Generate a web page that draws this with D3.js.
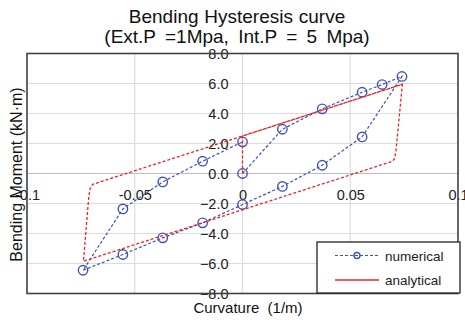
<!DOCTYPE html>
<html>
<head>
<meta charset="utf-8">
<script src="https://cdn.jsdelivr.net/npm/d3@7"></script>
<style>
  html, body { margin: 0; padding: 0; background: #fff; }
  svg { display: block; font-family: "Liberation Sans", Arial, sans-serif; }
  text { white-space: pre; }
</style>
</head>
<body>
<svg id="chart" width="465" height="320"></svg>
<script>
// ---- data ----
const numX = [0, 0.0185, 0.037, 0.0555, 0.0648, 0.074, 0.0555, 0.037, 0.0185, 0, -0.0185, -0.037, -0.0555, -0.074, -0.0555, -0.037, -0.0185, 0];
const numY = [0, 2.95, 4.31, 5.42, 5.93, 6.47, 2.44, 0.55, -0.86, -2.07, -3.29, -4.29, -5.40, -6.45, -2.36, -0.56, 0.82, 2.11];
const anaX = [0, 0, 0.0742, 0.0712, 0.0706, 0.0697, -0.0738, -0.0713, -0.0706, -0.0695, 0, 0.0742];
const anaY = [0, 2.5, 5.95, 1.5, 1.0, 0.82, -5.85, -1.5, -0.95, -0.72, 2.5, 5.95];
const xTicks = [-0.1, -0.05, 0, 0.05, 0.1];
const xTickLabels = ["-0.1", "-0.05", "0", "0.05", "0.1"];
const yTicks = [-8, -6, -4, -2, 0, 2, 4, 6, 8];
const seriesNames = ["numerical", "analytical"];
const titleLines = ["Bending Hysteresis curve", "(Ext.P =1Mpa, Int.P = 5 Mpa)"];
const xTitle = "Curvature  (1/m)";
const yTitle = "Bending Moment (kN\u00B7m)";

// ---- layout ----
const svg = d3.select("#chart");
const L = 27, R = 458, T = 53.5, B = 293.5;
const x = d3.scaleLinear().domain([-0.1, 0.1]).range([L, R]);
const y = d3.scaleLinear().domain([-8, 8]).range([B, T]);
const blue = "#3f51b5", red = "#e32626";

// grid
svg.append("g").selectAll("line").data(yTicks.filter(d => d > -8 && d < 8)).join("line")
  .attr("x1", L).attr("x2", R).attr("y1", d => y(d)).attr("y2", d => y(d))
  .attr("stroke", d => d === 0 ? "#bdbdbd" : "#dcdcdc").attr("stroke-width", 1.2);
svg.append("g").selectAll("line").data(xTicks.filter(d => d > -0.1 && d < 0.1)).join("line")
  .attr("x1", d => x(d)).attr("x2", d => x(d)).attr("y1", T).attr("y2", B)
  .attr("stroke", "#dcdcdc").attr("stroke-width", 1.2);

// axes labels via d3 axes
const yAxis = svg.append("g").attr("transform", `translate(${x(0)},0)`)
  .call(d3.axisLeft(y).tickValues(yTicks).tickSize(0).tickPadding(14).tickFormat(d3.format(".1f")));
yAxis.select(".domain").remove();
yAxis.selectAll("text").attr("font-size", 14.5).attr("fill", "#222").attr("font-family", "Liberation Sans, Arial, sans-serif");

const xAxis = svg.append("g").attr("transform", `translate(0,${y(0)})`)
  .call(d3.axisBottom(x).tickValues(xTicks).tickSize(0).tickPadding(16).tickFormat((d, i) => xTickLabels[i]));
xAxis.select(".domain").remove();
xAxis.selectAll("text").attr("font-size", 14.5).attr("fill", "#222").attr("font-family", "Liberation Sans, Arial, sans-serif");

// series
const line = d3.line().x(d => x(d[0])).y(d => y(d[1]));
const numPts = numX.map((v, i) => [v, numY[i]]);
const anaPts = anaX.map((v, i) => [v, anaY[i]]);

svg.append("path").datum(numPts).attr("d", line).attr("fill", "none")
  .attr("stroke", blue).attr("stroke-width", 1.2).attr("stroke-dasharray", "3,2");
svg.append("g").selectAll("circle").data(numPts).join("circle")
  .attr("cx", d => x(d[0])).attr("cy", d => y(d[1])).attr("r", 4.7)
  .attr("fill", "none").attr("stroke", blue).attr("stroke-width", 1.4);
svg.append("path").datum(anaPts).attr("d", line).attr("fill", "none")
  .attr("stroke", red).attr("stroke-width", 1.3).attr("stroke-dasharray", "3,2");

// frame
svg.append("rect").attr("x", L).attr("y", T).attr("width", R - L).attr("height", B - T)
  .attr("fill", "none").attr("stroke", "#404040").attr("stroke-width", 1.6);

// legend
const lg = svg.append("g");
lg.append("rect").attr("x", 317).attr("y", 242).attr("width", 143).attr("height", 51)
  .attr("fill", "#fff").attr("stroke", "#222").attr("stroke-width", 1.3);
lg.append("line").attr("x1", 335).attr("x2", 379).attr("y1", 255.5).attr("y2", 255.5)
  .attr("stroke", blue).attr("stroke-width", 1.2).attr("stroke-dasharray", "3,2");
lg.append("circle").attr("cx", 357).attr("cy", 255.5).attr("r", 3)
  .attr("fill", "none").attr("stroke", blue).attr("stroke-width", 1.4);
lg.append("line").attr("x1", 335).attr("x2", 379).attr("y1", 280).attr("y2", 280)
  .attr("stroke", red).attr("stroke-width", 1.3);
lg.selectAll("text").data(seriesNames).join("text")
  .attr("x", 385).attr("y", (d, i) => 260.5 + i * 24.5)
  .attr("font-size", 13.5).attr("fill", "#222").text(d => d);

// titles
svg.selectAll("text.title").data(titleLines).join("text").attr("class", "title")
  .attr("x", 237).attr("y", (d, i) => 23 + i * 19.5)
  .attr("text-anchor", "middle").attr("font-size", 19).attr("fill", "#111")
  .attr("word-spacing", (d, i) => i === 1 ? 4 : 0.5).text(d => d);
svg.append("text").attr("x", 248).attr("y", 313).attr("text-anchor", "middle")
  .attr("font-size", 15).attr("fill", "#111").text(xTitle);
svg.append("text").attr("transform", `translate(22,${174.5}) rotate(-90)`)
  .attr("text-anchor", "middle").attr("font-size", 16).attr("fill", "#111").text(yTitle);
</script>
</body>
</html>
